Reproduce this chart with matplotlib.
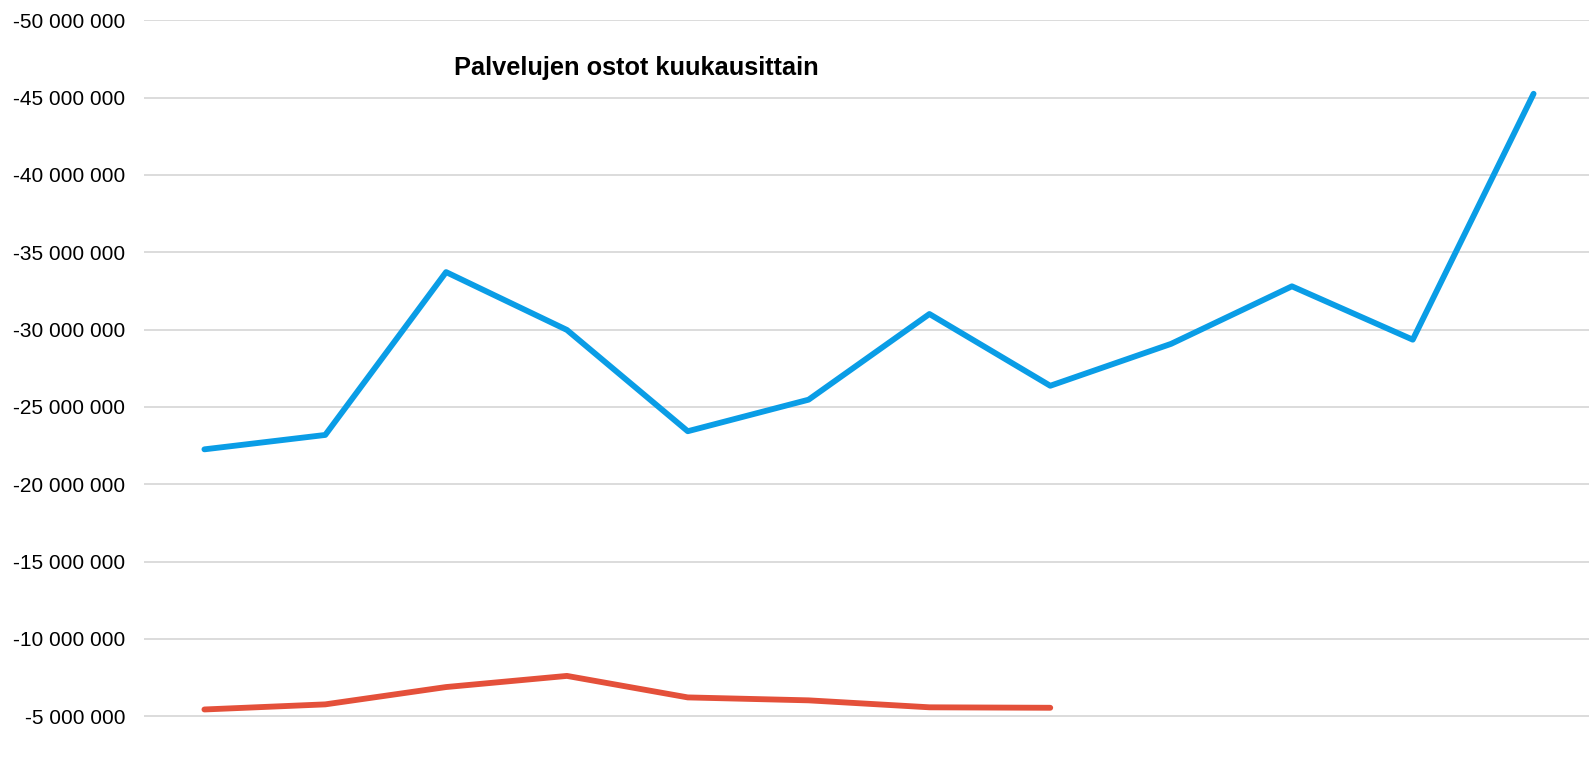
import matplotlib
matplotlib.use("Agg")
import matplotlib.pyplot as plt
from matplotlib.ticker import FuncFormatter

plt.rcParams['font.family'] = ['Liberation Sans', 'DejaVu Sans']

# Data (values in euros)
months = list(range(1, 13))
series_blue = [-22.26e6, -23.19e6, -33.72e6, -29.98e6, -23.43e6, -25.47e6,
               -31.01e6, -26.37e6, -29.08e6, -32.80e6, -29.35e6, -45.25e6]
months_red = list(range(1, 9))
series_red = [-5.44e6, -5.77e6, -6.89e6, -7.61e6, -6.22e6, -6.03e6, -5.58e6, -5.55e6]
title = "Palvelujen ostot kuukausittain"
yticks = [-50e6, -45e6, -40e6, -35e6, -30e6, -25e6, -20e6, -15e6, -10e6, -5e6]

W, H = 1589, 780
fig = plt.figure(figsize=(W / 100, H / 100), dpi=100)
left = 144 / W
right = 1594 / W
top = 1 - 20.3 / H
ax = fig.add_axes([left, 0, right - left, top])

blue = '#0A9DE6'
red = '#E4503A'
ax.plot(months, series_blue, color=blue, lw=4.2, solid_capstyle='round',
        solid_joinstyle='round', zorder=3)
ax.plot(months_red, series_red, color=red, lw=4.2, solid_capstyle='round',
        solid_joinstyle='round', zorder=3)

ax.set_xlim(0.5, 12.5)
ax.set_ylim(-0.88e6, -50e6)
ax.set_yticks(yticks)
ax.yaxis.set_major_formatter(FuncFormatter(lambda v, p: f"{v:,.0f}".replace(",", " ")))
ax.set_xticks([])
ax.tick_params(axis='y', length=0, pad=13.5, labelsize=15, labelcolor='#000000')
ax.grid(axis='y', color='#D9D9D9', lw=1.3, zorder=0)
ax.set_axisbelow(True)
for s in ax.spines.values():
    s.set_visible(False)

fig.text(636 / W, 1 - 68 / H, title, ha='center', va='center',
         fontsize=18.3, fontweight='bold', color='#000000')

fig.savefig("out.png", dpi=100)
